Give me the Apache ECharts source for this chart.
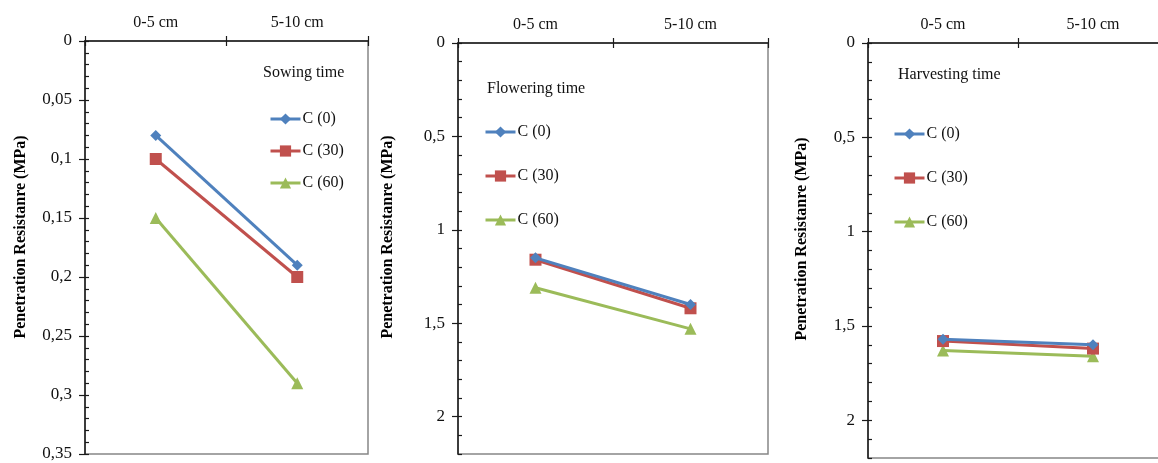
<!DOCTYPE html>
<html>
<head>
<meta charset="utf-8">
<script src="https://cdn.jsdelivr.net/npm/echarts@6/dist/echarts.min.js"></script>
<style>
html,body{margin:0;padding:0;background:#fff;}
#c{width:1158px;height:463px;}
</style>
</head>
<body>
<div id="c"></div>
<script>
// ---- data ----
var categories = ['0-5 cm', '5-10 cm'];
var seriesNames = ['C (0)', 'C (30)', 'C (60)'];
var panelTitles = ['Sowing time', 'Flowering time', 'Harvesting time'];
var yName = 'Penetration Resistanre (MPa)';

var sowC0 = [0.08, 0.19];
var sowC30 = [0.10, 0.20];
var sowC60 = [0.15, 0.29];

var flowC0 = [1.15, 1.40];
var flowC30 = [1.16, 1.42];
var flowC60 = [1.31, 1.53];

var harvC0 = [1.57, 1.60];
var harvC30 = [1.58, 1.62];
var harvC60 = [1.63, 1.66];

// y-axis ranges: [min, max, major interval, minor interval]
var yRange1 = [0, 0.35, 0.05, 0.01];
var yRange2 = [0, 2.2, 0.5, 0.1];
var yRange3 = [0, 2.2, 0.5, 0.1];

// ---- layout / style ----
var FONT = '"Liberation Serif", "Times New Roman", serif';
var colors = ['#4F81BD', '#C0504D', '#9BBB59'];
var symbols = ['diamond', 'rect', 'triangle'];
var symbolSizes = [11, 12, 12];

var grids = [
  {left: 85, top: 41, width: 283, height: 413},
  {left: 458, top: 43, width: 310, height: 411},
  {left: 868, top: 43, width: 300, height: 415}
];
var ranges = [yRange1, yRange2, yRange3];
var panelData = [[sowC0, sowC30, sowC60], [flowC0, flowC30, flowC60], [harvC0, harvC30, harvC60]];

function fmt(v) {
  return String(Math.round(v * 1000) / 1000).replace('.', ',');
}

var option = {
  backgroundColor: '#fff',
  animation: false,
  grid: [], xAxis: [], yAxis: [], series: [], legend: [], graphic: []
};

grids.forEach(function (g, i) {
  option.grid.push({left: g.left, top: g.top, width: g.width, height: g.height,
    outerBoundsMode: 'none', containLabel: false,
    show: true, borderColor: '#868686', borderWidth: 1.5, backgroundColor: 'transparent'});
  var r = ranges[i];
  // main x axis (top)
  option.xAxis.push({
    type: 'category', gridIndex: i, position: 'top', data: categories,
    boundaryGap: true,
    axisLine: {show: true, lineStyle: {color: '#1a1a1a', width: 1.5}},
    axisTick: {show: true, length: 5, lineStyle: {color: '#1a1a1a', width: 1.2}},
    axisLabel: {color: '#111', fontFamily: FONT, fontSize: 16, margin: 10},
    splitLine: {show: false}
  });
  // dummy x axis for inner half of crossing ticks
  option.xAxis.push({
    type: 'category', gridIndex: i, position: 'top', data: categories,
    boundaryGap: true,
    axisLine: {show: false},
    axisTick: {show: true, inside: true, length: 5, lineStyle: {color: '#1a1a1a', width: 1.2}},
    axisLabel: {show: false}, splitLine: {show: false}
  });
  // main y axis
  option.yAxis.push({
    type: 'value', gridIndex: i, position: 'left', inverse: true,
    min: r[0], max: r[1], interval: r[2],
    axisLine: {show: true, lineStyle: {color: '#1a1a1a', width: 1.5}},
    axisTick: {show: true, length: 6, lineStyle: {color: '#1a1a1a', width: 1.2}},
    axisLabel: {color: '#111', fontFamily: FONT, fontSize: 17, margin: 13,
      formatter: fmt, showMaxLabel: i === 0},
    splitLine: {show: false}
  });
  // dummy y axis for inner minor ticks
  option.yAxis.push({
    type: 'value', gridIndex: i, position: 'left', inverse: true,
    min: r[0], max: r[1], interval: r[3],
    axisLine: {show: false},
    axisTick: {show: true, inside: true, length: 4, lineStyle: {color: '#1a1a1a', width: 1.2}},
    axisLabel: {show: false}, splitLine: {show: false}
  });

  panelData[i].forEach(function (vals, k) {
    option.series.push({
      name: seriesNames[k], type: 'line',
      xAxisIndex: i * 2, yAxisIndex: i * 2,
      data: vals,
      symbol: symbols[k], symbolSize: symbolSizes[k],
      lineStyle: {color: colors[k], width: 3},
      itemStyle: {color: colors[k]},
      z: 3 + (2 - k)
    });
  });

  option.graphic.push({
    type: 'text', x: [21, 388, 802][i], y: [237, 237, 239][i], rotation: Math.PI / 2,
    style: {text: yName, fill: '#000', font: 'bold 16px ' + FONT, textAlign: 'center', textVerticalAlign: 'middle'}
  });
});

// legends and their titles
var legendPos = [
  {left: 269, top: 111, gap: 16, titleX: 263, titleY: 73},
  {left: 484, top: 124, gap: 28, titleX: 487, titleY: 89},
  {left: 893, top: 126, gap: 28, titleX: 898, titleY: 75}
];
legendPos.forEach(function (p, i) {
  option.legend.push({
    data: seriesNames, orient: 'vertical', left: p.left, top: p.top,
    itemWidth: 30, itemHeight: 14, itemGap: p.gap, padding: 0,
    selectedMode: false,
    lineStyle: {width: 3},
    textStyle: {fontFamily: FONT, fontSize: 16, color: '#111', padding: [0, 0, 0, -3]}
  });
  option.graphic.push({
    type: 'text', x: p.titleX, y: p.titleY,
    style: {text: panelTitles[i], fill: '#111', font: '16px ' + FONT, textAlign: 'left', textVerticalAlign: 'middle'}
  });
});

var chart = echarts.init(document.getElementById('c'), null, {renderer: 'canvas'});
chart.setOption(option);
</script>
</body>
</html>
